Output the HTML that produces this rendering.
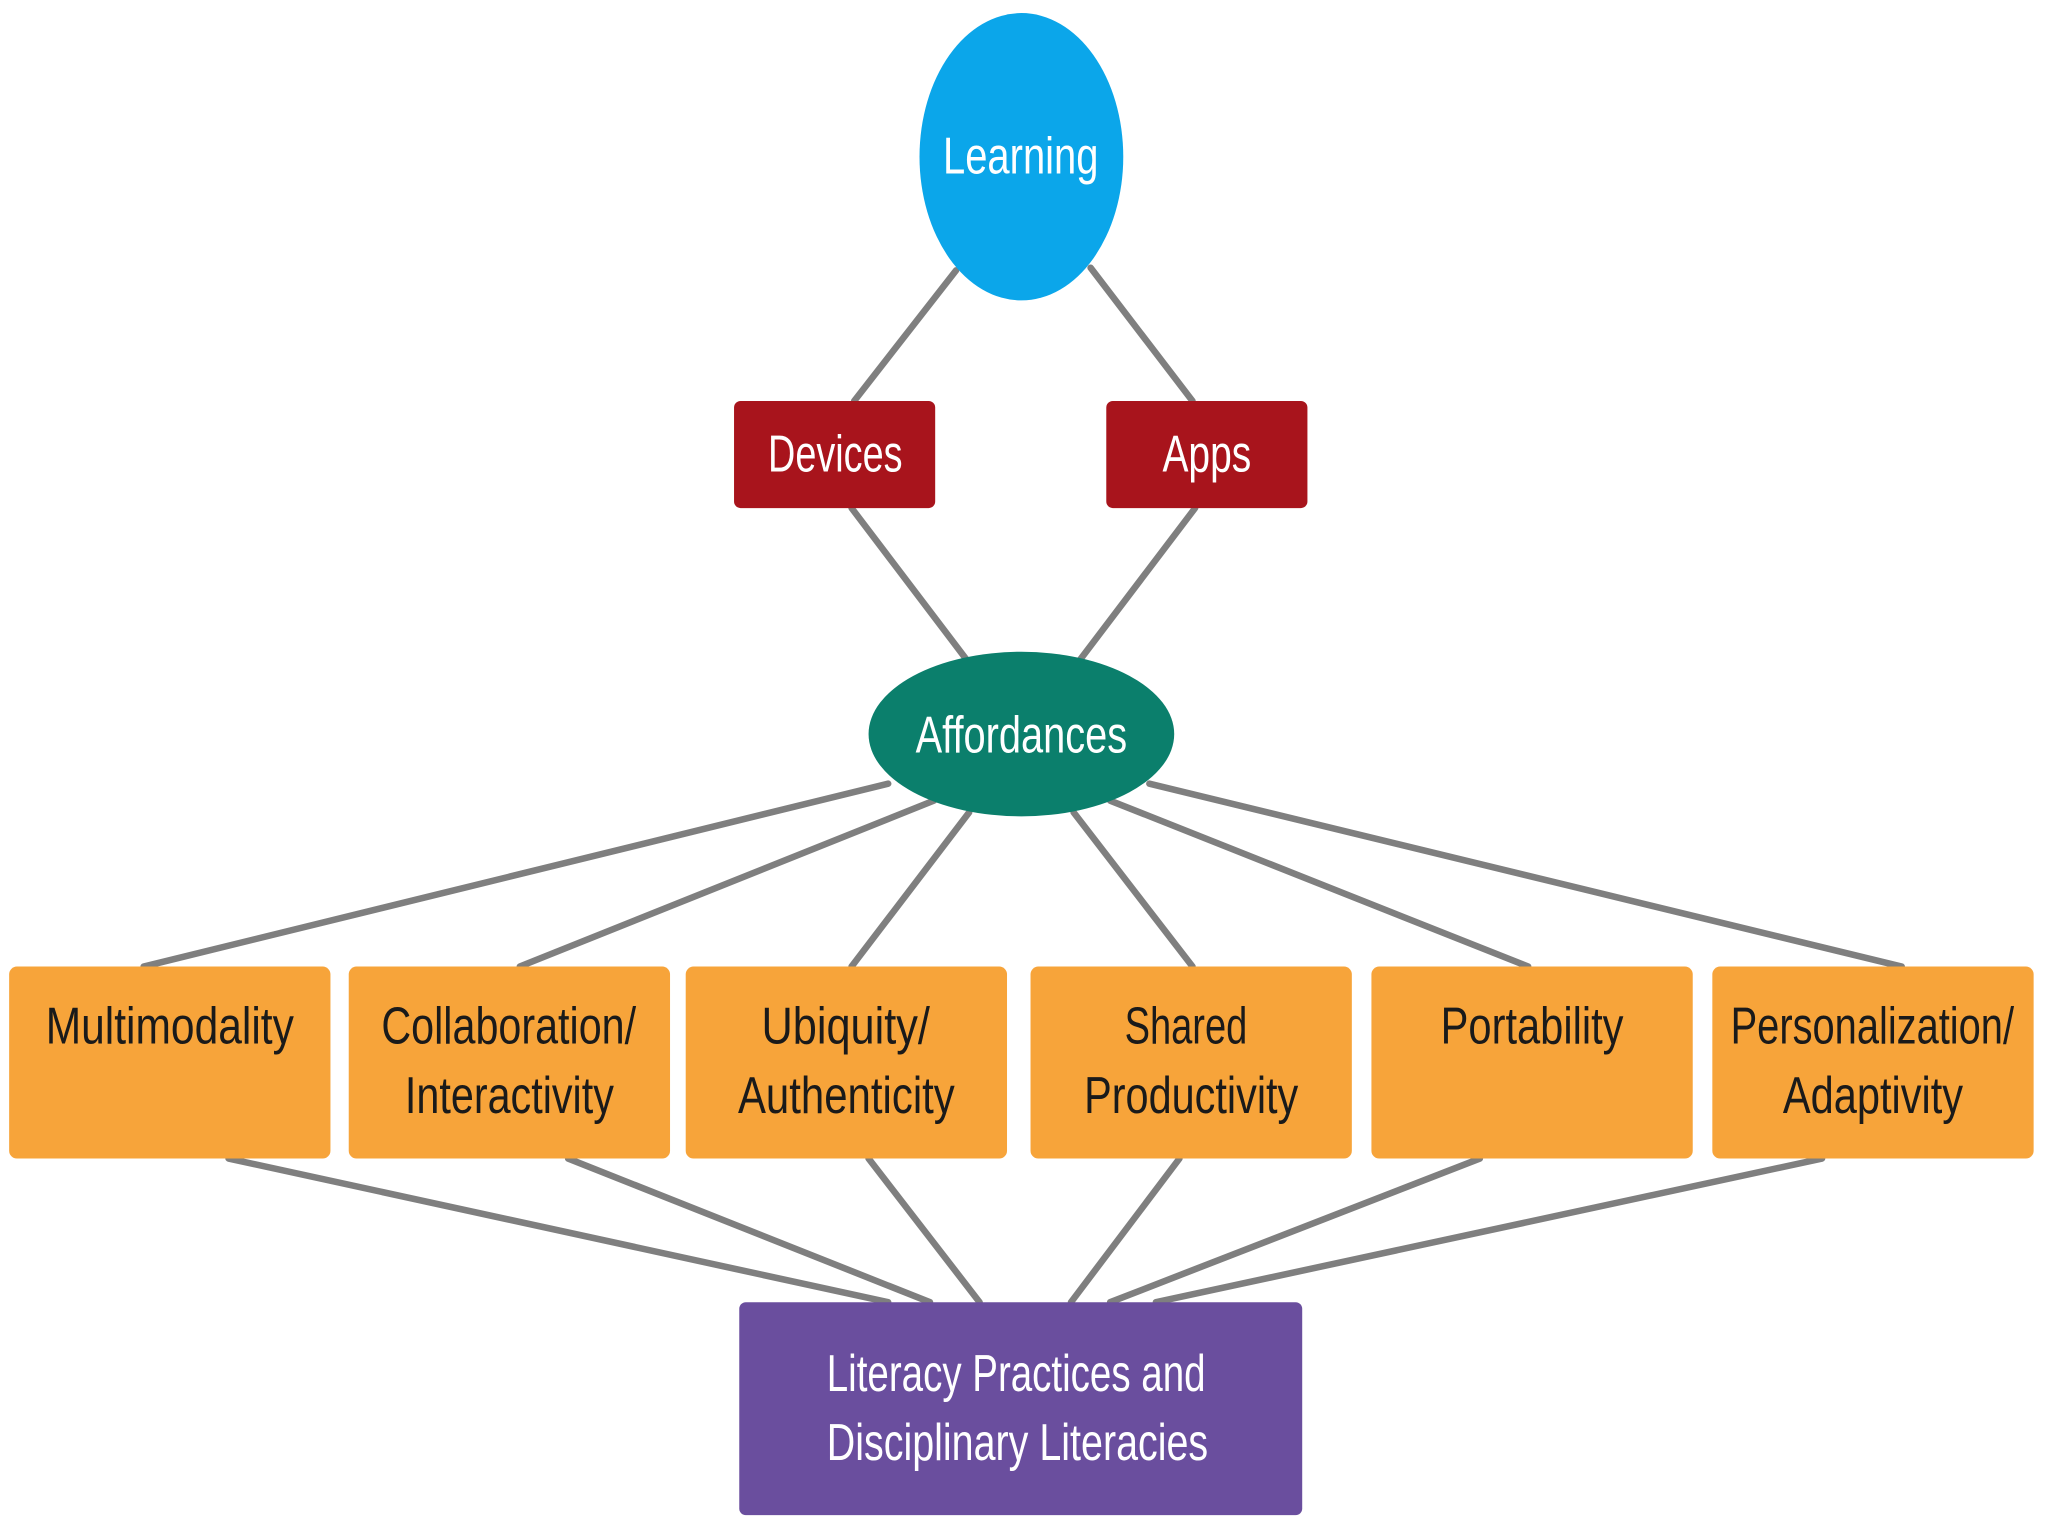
<!DOCTYPE html>
<html><head><meta charset="utf-8"><style>
html,body{margin:0;padding:0;background:#fff;}
svg{display:block;}
text{font-family:"Liberation Sans Narrow","Liberation Sans",sans-serif;font-size:40px;}
</style></head><body>
<svg width="2048" height="1536" viewBox="0 0 1568 1176" xmlns="http://www.w3.org/2000/svg">
<rect width="1568" height="1176" fill="#fff"/>
<g stroke="#7f7f7f" stroke-width="5" stroke-linecap="round">
<line x1="732" y1="207" x2="654" y2="307"/>
<line x1="835" y1="205" x2="913" y2="307"/>
<line x1="652" y1="389" x2="740" y2="505"/>
<line x1="915" y1="389" x2="827" y2="505"/>
<line x1="680" y1="600" x2="110" y2="740"/>
<line x1="715" y1="613" x2="398" y2="740"/>
<line x1="742" y1="622" x2="652" y2="740"/>
<line x1="822" y1="622" x2="913" y2="740"/>
<line x1="850" y1="613" x2="1170" y2="740"/>
<line x1="880" y1="600" x2="1456" y2="740"/>
<line x1="175" y1="887" x2="680" y2="997"/>
<line x1="435" y1="887" x2="712" y2="997"/>
<line x1="665" y1="887" x2="750" y2="997"/>
<line x1="903" y1="887" x2="820" y2="997"/>
<line x1="1133" y1="887" x2="850" y2="997"/>
<line x1="1395" y1="887" x2="885" y2="997"/>
</g>
<ellipse cx="782" cy="120" rx="78" ry="110" fill="#0ba6ea"/>
<rect x="562" y="307" width="154" height="82" rx="5" fill="#a8141c"/>
<rect x="847" y="307" width="154" height="82" rx="5" fill="#a8141c"/>
<ellipse cx="782" cy="562" rx="117" ry="63" fill="#0b7f6c"/>
<g fill="#f7a43a">
<rect x="7" y="740" width="246" height="147" rx="6"/>
<rect x="267" y="740" width="246" height="147" rx="6"/>
<rect x="525" y="740" width="246" height="147" rx="6"/>
<rect x="789" y="740" width="246" height="147" rx="6"/>
<rect x="1050" y="740" width="246" height="147" rx="6"/>
<rect x="1311" y="740" width="246" height="147" rx="6"/>
</g>
<rect x="566" y="997" width="431" height="163" rx="5" fill="#6a4e9e"/>
<g fill="#fff">
<text x="722" y="133" textLength="119" lengthAdjust="spacingAndGlyphs">Learning</text>
<text x="588" y="361" textLength="103" lengthAdjust="spacingAndGlyphs">Devices</text>
<text x="890" y="361" textLength="68" lengthAdjust="spacingAndGlyphs">Apps</text>
<text x="701" y="576" textLength="162" lengthAdjust="spacingAndGlyphs">Affordances</text>
<text x="633" y="1065" textLength="290" lengthAdjust="spacingAndGlyphs">Literacy Practices and</text>
<text x="633" y="1118" textLength="292" lengthAdjust="spacingAndGlyphs">Disciplinary Literacies</text>
</g>
<g fill="#1a1a1a">
<text x="35" y="799" textLength="190" lengthAdjust="spacingAndGlyphs">Multimodality</text>
<text x="292" y="799" textLength="195" lengthAdjust="spacingAndGlyphs">Collaboration/</text>
<text x="310" y="852" textLength="160" lengthAdjust="spacingAndGlyphs">Interactivity</text>
<text x="583" y="799" textLength="129" lengthAdjust="spacingAndGlyphs">Ubiquity/</text>
<text x="565" y="852" textLength="166" lengthAdjust="spacingAndGlyphs">Authenticity</text>
<text x="861" y="799" textLength="94" lengthAdjust="spacingAndGlyphs">Shared</text>
<text x="830" y="852" textLength="164" lengthAdjust="spacingAndGlyphs">Productivity</text>
<text x="1103" y="799" textLength="140" lengthAdjust="spacingAndGlyphs">Portability</text>
<text x="1325" y="799" textLength="217" lengthAdjust="spacingAndGlyphs">Personalization/</text>
<text x="1365" y="852" textLength="138" lengthAdjust="spacingAndGlyphs">Adaptivity</text>
</g>
</svg>
</body></html>
